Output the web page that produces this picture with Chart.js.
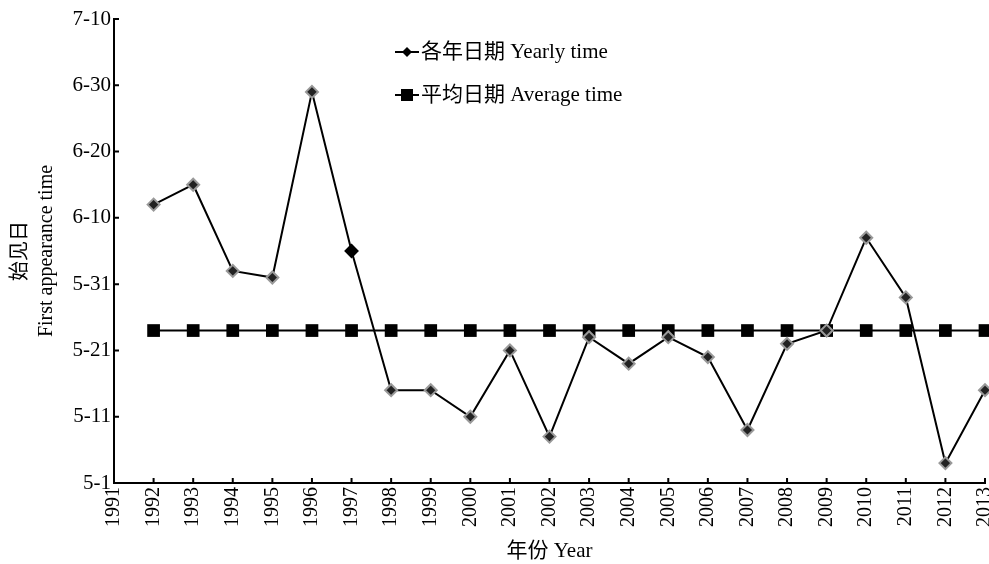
<!DOCTYPE html>
<html>
<head>
<meta charset="utf-8">
<script src="https://cdn.jsdelivr.net/npm/chart.js@4"></script>
<style>
  html, body { margin: 0; padding: 0; background: #fff; }
  #wrap { width: 989px; height: 564px; }
</style>
</head>
<body>
<div id="wrap"><canvas id="graficoFecha"></canvas></div>
<script>
const anios = [1992, 1993, 1994, 1995, 1996, 1997, 1998, 1999, 2000, 2001, 2002,
    2003, 2004, 2005, 2006, 2007, 2008, 2009, 2010, 2011, 2012, 2013];
// days after 1 May
const diasAnuales = [42, 45, 32, 31, 59, 35, 14, 14, 10, 20, 7,
    22, 18, 22, 19, 8, 21, 23, 37, 28, 3, 14];
const diaPromedio = 23;
const etiquetasY = ["5-1", "5-11", "5-21", "5-31", "6-10", "6-20", "6-30", "7-10"];

const fuente = "'Liberation Serif', 'Noto Sans CJK SC', serif";

// gray diamonds, 1997 drawn solid black
const rellenoAnual = anios.map((a) => (a === 1997 ? "#000" : "#222"));
const bordeAnual = anios.map((a) => (a === 1997 ? "#000" : "#999"));

const ticksInternos = {
    id: "ticksInternos",
    afterDraw(chart) {
        const ctx = chart.ctx;
        const x = chart.scales.x;
        const y = chart.scales.y;
        ctx.save();
        ctx.strokeStyle = "#000";
        ctx.lineWidth = 2;
        ctx.beginPath();
        x.ticks.forEach((t) => {
            if (t.value === x.min) return;
            const px = x.getPixelForValue(t.value);
            ctx.moveTo(px, x.top);
            ctx.lineTo(px, x.top - 5);
        });
        y.ticks.forEach((t) => {
            if (t.value === y.min) return;
            const py = y.getPixelForValue(t.value);
            ctx.moveTo(y.right, py);
            ctx.lineTo(y.right + 5, py);
        });
        ctx.stroke();
        ctx.restore();
    },
};

const leyenda = {
    id: "leyenda",
    afterDraw(chart) {
        const ctx = chart.ctx;
        ctx.save();
        ctx.font = "21px " + fuente;
        ctx.fillStyle = "#000";
        ctx.textBaseline = "middle";
        const filas = [
            { y: 52, texto: "各年日期 Yearly time", tipo: "diamante" },
            { y: 95, texto: "平均日期 Average time", tipo: "cuadro" },
        ];
        filas.forEach((f) => {
            ctx.strokeStyle = "#000";
            ctx.lineWidth = 2;
            ctx.beginPath();
            ctx.moveTo(395, f.y);
            ctx.lineTo(419, f.y);
            ctx.stroke();
            ctx.beginPath();
            if (f.tipo === "diamante") {
                ctx.moveTo(407, f.y - 5);
                ctx.lineTo(412, f.y);
                ctx.lineTo(407, f.y + 5);
                ctx.lineTo(402, f.y);
                ctx.closePath();
                ctx.fill();
            } else {
                ctx.fillRect(401, f.y - 6, 12, 12);
            }
            ctx.fillText(f.texto, 421, f.y);
        });
        ctx.restore();
    },
};

const dataGrafico = {
    datasets: [
        {
            label: "各年日期 Yearly time",
            data: anios.map((a, i) => ({ x: a, y: diasAnuales[i] })),
            borderColor: "#000",
            borderWidth: 2,
            pointStyle: "rectRot",
            pointRadius: 6,
            pointBackgroundColor: rellenoAnual,
            pointBorderColor: bordeAnual,
            pointBorderWidth: 2,
            tension: 0,
            clip: false,
        },
        {
            label: "平均日期 Average time",
            data: anios.map((a) => ({ x: a, y: diaPromedio })),
            borderColor: "#000",
            borderWidth: 2,
            pointStyle: "rect",
            pointRadius: 9,
            pointBackgroundColor: "#000",
            pointBorderColor: "#000",
            pointBorderWidth: 0,
            clip: false,
        },
    ],
};

const configGrafico = {
    type: "line",
    data: dataGrafico,
    options: {
        responsive: true,
        maintainAspectRatio: false,
        animation: false,
        layout: { autoPadding: false, padding: { top: 19, right: 4, left: 0, bottom: 0 } },
        plugins: {
            legend: { display: false },
            tooltip: { enabled: false },
        },
        scales: {
            x: {
                type: "linear",
                min: 1991,
                max: 2013,
                grid: { display: true, drawOnChartArea: false, drawTicks: false },
                border: { display: true, color: "#000", width: 2 },
                ticks: {
                    stepSize: 1,
                    autoSkip: false,
                    minRotation: 90,
                    maxRotation: 90,
                    padding: 4,
                    color: "#000",
                    font: { family: fuente, size: 20 },
                    callback: (v) => String(v),
                },
                title: {
                    display: true,
                    text: "年份 Year",
                    color: "#000",
                    padding: { top: 4, bottom: 0 },
                    font: { family: fuente, size: 21 },
                },
                afterFit: (escala) => {
                    escala.height = 81;
                    escala.paddingLeft = 0;
                    escala.paddingRight = 0;
                },
            },
            y: {
                min: 0,
                max: 70,
                grid: { display: true, drawOnChartArea: false, drawTicks: false },
                border: { display: true, color: "#000", width: 2 },
                ticks: {
                    stepSize: 10,
                    padding: 3,
                    color: "#000",
                    font: { family: fuente, size: 21 },
                    callback: (v) => etiquetasY[Math.round(v / 10)],
                },
                title: {
                    display: true,
                    text: ["始见日", "First appearance time"],
                    color: "#000",
                    padding: { top: 8, bottom: 0 },
                    font: { family: fuente, size: 20, lineHeight: 1.3 },
                },
                afterFit: (escala) => {
                    escala.width = 114;
                    escala.paddingTop = 0;
                    escala.paddingBottom = 0;
                },
            },
        },
    },
    plugins: [ticksInternos, leyenda],
};

const graficoFecha = new Chart(document.getElementById("graficoFecha"), configGrafico);
</script>
</body>
</html>
